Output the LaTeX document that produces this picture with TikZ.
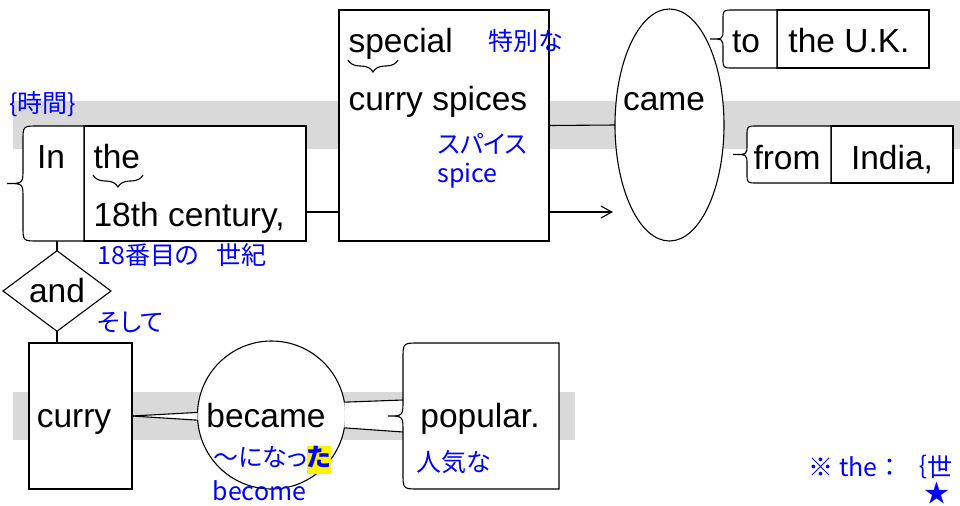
\documentclass[tikz,border=0pt]{standalone}
\usepackage{fontspec}
\setmainfont{Liberation Sans}
\newfontfamily\jpfont[RawFeature=+palt]{Noto Sans CJK JP}
\newfontfamily\jpwide{Noto Sans CJK JP}
\usetikzlibrary{shapes.geometric,arrows.meta,decorations.pathreplacing}

\definecolor{bandgray}{RGB}{217,217,217}
\newcommand{\wordfont}{\fontsize{16.75}{20}\selectfont}
\newcommand{\glossfont}{\jpfont\fontsize{12.5}{14}\selectfont}
% left side of a cell drawn as a curly brace: node, corner size, tip depth
\newcommand{\braceframe}[3]{%
	\draw[fill=white] ([xshift=#2]#1.north west) -- (#1.north east) -- (#1.south east)
		-- ([xshift=#2]#1.south west) .. controls (#1.south west) .. ([yshift=#2]#1.south west)
		-- ([yshift=-#2]#1.west) .. controls (#1.west) .. ([xshift=-#3]#1.west)
		.. controls (#1.west) .. ([yshift=#2]#1.west)
		-- ([yshift=-#2]#1.north west) .. controls (#1.north west) .. ([xshift=#2]#1.north west) -- cycle;
}

\tikzset{
	box/.style={draw, fill=white, inner sep=0pt, outer sep=0pt},
	bracecell/.style={inner sep=0pt, outer sep=0pt},
	word/.style={font=\wordfont, inner sep=0pt, anchor=base},
	gloss/.style={font=\glossfont, text=blue, inner sep=0pt, anchor=west},
	underbrace/.style={decorate, decoration={brace, amplitude=6pt}},
}

\begin{document}
\begin{tikzpicture}[
		x=0.5pt, y=-0.5pt,
		line width=0.55pt
	]
	\useasboundingbox (0,0) rectangle (960,505);

	% Bands
	\fill[bandgray] (13,101) rectangle (960,149);
	\fill[bandgray] (13,392) rectangle (575,440);

	% Boxes
	\node[bracecell, minimum width=30.5pt, minimum height=57.5pt] (inword) at (53.5,183.5) {};
	\node[box, minimum width=111pt, minimum height=57.5pt] (century) at (195,183.5) {};
	\node[box, minimum width=105pt, minimum height=115.5pt] (spices) at (444,125.5) {};
	\node[box, ellipse, minimum width=54.5pt, minimum height=116pt] (came) at (669.5,125) {};
	\node[bracecell, minimum width=27pt, minimum height=29pt] (tocell) at (750,39) {};
	\node[box, minimum width=76pt, minimum height=29pt] (uk) at (853,39) {};
	\node[bracecell, minimum width=42pt, minimum height=28.5pt] (fromcell) at (789,154.5) {};
	\node[box, minimum width=61pt, minimum height=28.5pt] (india) at (892,154.5) {};
	\node[box, diamond, font=\wordfont, minimum width=54pt, minimum height=32pt] (and) at (57,291) {and};
	\node[box, minimum width=51.5pt, minimum height=73pt] (curry) at (80.5,416) {};
	\node[box, circle, minimum size=74pt] (became) at (271.5,415) {};
	\node[bracecell, minimum width=78pt, minimum height=73pt] (popular) at (481,416) {};

	% Connections
	\coordinate (cjoin) at ([yshift=-14.25pt]century.east);
	\draw (cjoin) -- (cjoin -| spices.west);
	\draw (spices.east) -- (came.west);
	\coordinate (sjoin) at ([yshift=-43.25pt]spices.east);
	\draw[-{Straight Barb[length=5.5pt,width=6pt]}] (sjoin) -- ++(32pt,0);

	\draw (and.north) -- (and.north |- inword.south);
	\draw (and.south) -- (and.south |- curry.north);

	\fill[white] (curry.east) -- (became.178) -- (became.184) -- cycle;
	\draw (curry.east) -- (became.178);
	\draw (curry.east) -- (became.184);

	\fill[white] (became.10) -- ([yshift=8pt]popular.west) -- ([yshift=-8pt]popular.west) -- (became.-10) -- cycle;
	\draw (became.10) -- ([yshift=8pt]popular.west);
	\draw (became.-10) -- ([yshift=-8pt]popular.west);

	% Brace sides
	\braceframe{inword}{7.5pt}{8pt}
	\braceframe{tocell}{5pt}{6.5pt}
	\braceframe{fromcell}{5pt}{7pt}
	\braceframe{popular}{8pt}{7.5pt}

	% Words
	\node[word] (w-in) at (51,168) {In};
	\node[word, anchor=base west] (w-the) at (93,168) {the};
	\node[word, anchor=base west] (w-century) at (93,226) {18th century,};
	\node[word, anchor=base west] (w-special) at (348,52) {special};
	\node[word, anchor=base west] (w-spices) at (348,110) {curry spices};
	\node[word] (w-came) at (664,110) {came};
	\node[word] (w-to) at (746,52) {to};
	\node[word] (w-uk) at (849,52) {the U.K.};
	\node[word] (w-from) at (787,169) {from};
	\node[word] (w-india) at (892,169) {India,};
	\node[word] (w-curry) at (74,427) {curry};
	\node[word] (w-became) at (266,427) {became};
	\node[word] (w-popular) at (480,427) {popular.};

	\draw[underbrace] ([shift={(25pt,-3.5pt)}]w-the.base west) -- ++(-25pt,0);
	\draw[underbrace] ([shift={(25pt,-4pt)}]w-special.base west) -- ++(-25pt,0);

	% Glosses
	\node[gloss] (g-time) at (9,104) {\{時間\}};
	\node[gloss] (g-century) at (97,255) {18番目の\hspace{0.7em}世紀};
	\node[gloss] (g-special) at (488,41) {特別な};
	\node[gloss] (g-spice) at (437,144) {スパイス};
	\node[gloss] (g-spiceen) at (437,176) {spice};
	\node[gloss] (g-and) at (97,322) {そして};
	\node[gloss] (g-became) at (213,460) {～になっ{\setlength{\fboxsep}{0pt}\colorbox{yellow}{\strut\textbf{た}}}};
	\node[gloss] (g-becomeen) at (212,491) {become};
	\node[gloss] (g-popular) at (416,462) {人気な};
	\node[gloss, font=\jpwide\fontsize{12.5}{14}\selectfont] (g-note) at (808,467) {※ the：｛世};
	\node[gloss, font=\jpwide\fontsize{12.5}{14}\selectfont] (g-star) at (924,493) {★};
\end{tikzpicture}
\end{document}
